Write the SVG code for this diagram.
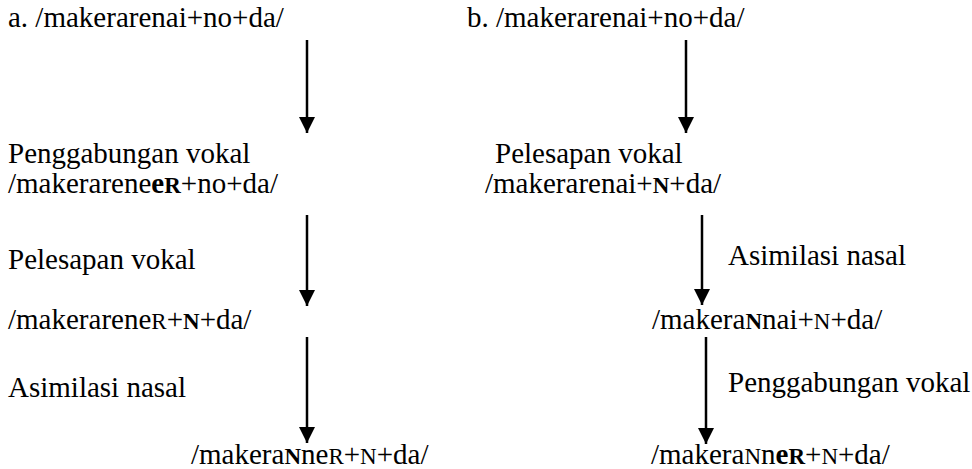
<svg xmlns="http://www.w3.org/2000/svg" width="972" height="469" viewBox="0 0 972 469">
<style>
text{font-family:"Liberation Serif","DejaVu Serif",serif;font-size:29px;fill:#000}
.b{font-weight:bold}
.sc{font-size:23px}
.arr{stroke:#000;stroke-width:2.5;fill:none}
</style>
<defs>
<marker id="ah" markerUnits="userSpaceOnUse" markerWidth="18" markerHeight="16" refX="16" refY="8" orient="auto">
<path d="M0,0 L16,8 L0,16 Z" fill="#000"/>
</marker>
</defs>
<rect width="972" height="469" fill="#fff"/>
<g id="connectors">
<line class="arr" x1="307" y1="40" x2="307" y2="133" marker-end="url(#ah)"/>
<line class="arr" x1="307" y1="215" x2="307" y2="306" marker-end="url(#ah)"/>
<line class="arr" x1="307" y1="337" x2="307" y2="443" marker-end="url(#ah)"/>
<line class="arr" x1="686" y1="40" x2="686" y2="133" marker-end="url(#ah)"/>
<line class="arr" x1="702" y1="215" x2="702" y2="305" marker-end="url(#ah)"/>
<line class="arr" x1="706" y1="337" x2="706" y2="444" marker-end="url(#ah)"/>
</g>
<g id="a-start"><text x="8" y="27">a. /makerarenai+no+da/</text></g>
<g id="b-start"><text x="467" y="27">b. /makerarenai+no+da/</text></g>
<g id="a-step1">
<text x="8" y="163">Penggabungan vokal</text>
<text x="8" y="193">/makerarene<tspan class="b">e</tspan><tspan class="b sc">R</tspan>+no+da/</text>
</g>
<g id="b-step1">
<text x="495" y="163">Pelesapan vokal</text>
<text x="485" y="193">/makerarenai+<tspan class="b sc">N</tspan>+da/</text>
</g>
<g id="a-step2">
<text x="8" y="269">Pelesapan vokal</text>
<text x="8" y="329">/makerarene<tspan class="sc">R</tspan>+<tspan class="b sc">N</tspan>+da/</text>
</g>
<g id="b-step2">
<text x="728" y="265">Asimilasi nasal</text>
<text x="652" y="329">/makera<tspan class="b sc">N</tspan>nai+<tspan class="sc">N</tspan>+da/</text>
</g>
<g id="a-step3">
<text x="8" y="397">Asimilasi nasal</text>
<text x="191" y="464">/makera<tspan class="b sc">N</tspan>ne<tspan class="sc">R</tspan>+<tspan class="sc">N</tspan>+da/</text>
</g>
<g id="b-step3">
<text x="728" y="392">Penggabungan vokal</text>
<text x="651" y="464">/makera<tspan class="sc">N</tspan>n<tspan class="b">e</tspan><tspan class="b sc">R</tspan>+<tspan class="sc">N</tspan>+da/</text>
</g>
</svg>
